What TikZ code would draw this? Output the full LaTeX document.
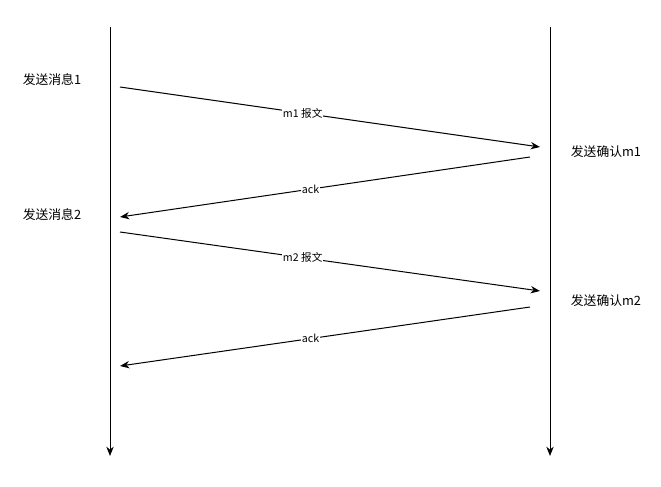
\documentclass[tikz,border=0pt]{standalone}
\usepackage{fontspec}
\setmainfont{Noto Sans CJK SC}
\usetikzlibrary{arrows.meta}
\begin{document}
\begin{tikzpicture}
  [x=0.75pt,y=-0.75pt,line width=0.75pt,>={Stealth[length=7pt,width=5.5pt]},
   every node/.style={font=\fontsize{9.6}{11}\selectfont}]
  \tikzstyle{msg} = [fill=white,inner sep=0.5pt,font=\fontsize{8}{10}\selectfont]
  \useasboundingbox (0,0) rectangle (661,486);
  % time lines
  \coordinate (ltop) at (110,27);
  \coordinate (lbot) at (110,456);
  \coordinate (rtop) at (550,27);
  \coordinate (rbot) at (550,456);
  \draw[->] (ltop) -- (lbot);
  \draw[->] (rtop) -- (rbot);
  % message ends
  \coordinate (s1) at (120,87);
  \coordinate (e1) at (540,147);
  \coordinate (s2) at (530,157);
  \coordinate (e2) at (120,217);
  \coordinate (s3) at (120,232);
  \coordinate (e3) at (540,291);
  \coordinate (s4) at (530,307);
  \coordinate (e4) at (120,366);
  \foreach \source /\dest /\where /\text in {s1/e1/.435/m1 报文,s2/e2/.535/ack,s3/e3/.435/m2 报文,s4/e4/.535/ack}
   \draw[->] (\source) --node[msg,pos=\where] {\text} (\dest);
  % events
  \node (send1) at (52,80)  {发送消息1};
  \node (send2) at (52,215) {发送消息2};
  \node (ack1)  at (606,152) {发送确认m1};
  \node (ack2)  at (606,301) {发送确认m2};
\end{tikzpicture}
\end{document}
